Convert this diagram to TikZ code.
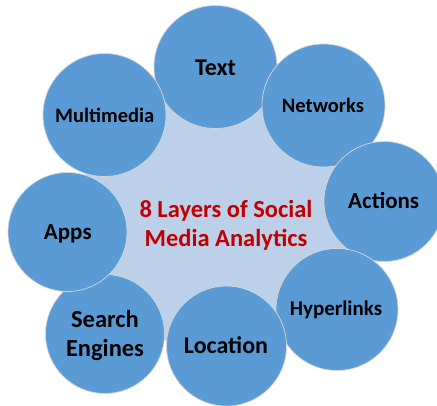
\documentclass[tikz,border=0pt]{standalone}
\usepackage{fontspec}
\setmainfont{Carlito}
\definecolor{bubble}{HTML}{5B9BD5}
\definecolor{hub}{HTML}{BDD0EA}
\definecolor{rim}{HTML}{D6D6D6}
\definecolor{titlered}{HTML}{C00000}
\begin{document}
\begin{tikzpicture}[x=1pt,y=-1pt,
  bubblestyle/.style={circle,fill=bubble,draw=rim,line width=0.7pt,inner sep=0pt,minimum size=#1},
  lab/.style={anchor=base,inner sep=0pt,text=black,font=\bfseries\fontsize{#1}{29}\selectfont},
  hubtext/.style={anchor=base,inner sep=0pt,align=center,text=titlered,font=\bfseries\fontsize{24.5}{29}\selectfont}]
\useasboundingbox (0,0) rectangle (437,405);
\coordinate (cText) at (215.5,67);
\coordinate (cNet) at (323.5,105.5);
\coordinate (cAct) at (384,201.5);
\coordinate (cHyp) at (337,309.5);
\coordinate (cLoc) at (226.5,346);
\coordinate (cSea) at (105,334);
\coordinate (cApp) at (67.5,232);
\coordinate (cMul) at (104.5,115);
% hub shape
\filldraw[fill=hub,draw=rim,line width=0.7pt] (cText) -- (cNet) -- (cAct) -- (cHyp) -- (cLoc) -- (cSea) -- (cApp) -- (cMul) -- cycle;
% bubbles
\node[bubblestyle=123pt] (bText) at (cText) {};
\node[bubblestyle=119pt] (bSea) at (cSea) {};
\node[bubblestyle=123pt] (bMul) at (cMul) {};
\node[bubblestyle=123pt] (bNet) at (cNet) {};
\node[bubblestyle=120pt] (bAct) at (cAct) {};
\node[bubblestyle=122pt] (bHyp) at (cHyp) {};
\node[bubblestyle=119pt] (bApp) at (cApp) {};
\node[bubblestyle=120pt] (bLoc) at (cLoc) {};
% labels
\node[lab=24] (tText) at (215.5,75.7) {Text};
\node[lab=20.5] (tNet) at (323,112.3) {Networks};
\node[lab=23] (tAct) at (383.7,208.9) {Actions};
\node[lab=23] (tApp) at (67.8,239.1) {Apps};
\node[lab=20.5] (tMul) at (104.7,122.3) {Multimedia};
\node[lab=21] (tHyp) at (336,315.7) {Hyperlinks};
\node[lab=24] (tLoc) at (226,353.2) {Location};
\node[lab=24.5,align=center] (tSea) at (105,356.8) {Search\\Engines};
\node[hubtext] (tHub) at (226,246.8) {8 Layers of Social\\Media Analytics};
\end{tikzpicture}
\end{document}
